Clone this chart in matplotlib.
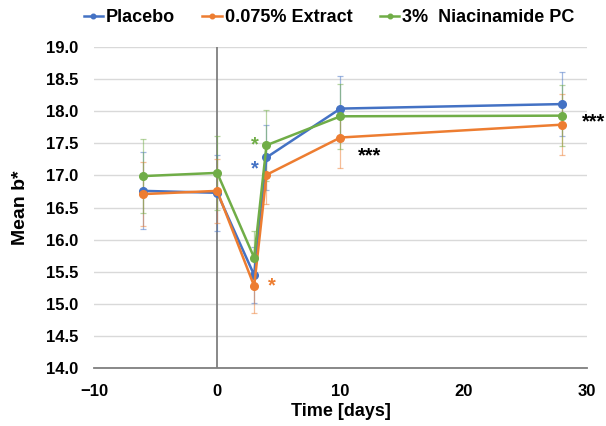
import matplotlib.pyplot as plt

plt.rcParams['font.family'] = ['Liberation Sans', 'DejaVu Sans']
plt.rcParams['font.weight'] = 'bold'

days = [-6, 0, 3, 4, 10, 28]
placebo = [16.76, 16.73, 15.45, 17.28, 18.04, 18.11]
placebo_err = [0.60, 0.59, 0.43, 0.50, 0.51, 0.50]
extract = [16.71, 16.76, 15.28, 17.01, 17.59, 17.79]
extract_err = [0.50, 0.50, 0.42, 0.46, 0.48, 0.47]
niacin = [16.99, 17.04, 15.72, 17.47, 17.92, 17.93]
niacin_err = [0.58, 0.57, 0.42, 0.55, 0.51, 0.47]

labels = ['Placebo', '0.075% Extract', '3%  Niacinamide PC']
colors = ['#4472C4', '#ED7D31', '#70AD47']

fig = plt.figure(figsize=(6.06, 4.26), dpi=100)
ax = fig.add_axes([0.155, 0.1354, 0.8136, 0.7546])

handles = []
for y, err, lab, c in zip([placebo, extract, niacin],
                          [placebo_err, extract_err, niacin_err], labels, colors):
    ax.errorbar(days, y, yerr=err, fmt='none', ecolor=c, elinewidth=0.9,
                capsize=2.5, capthick=0.9, alpha=0.5, zorder=3)
    h, = ax.plot(days, y, color=c, lw=1.8, marker='o', markersize=5.5, label=lab, zorder=4)
    handles.append(h)

# significance markers
star_kw = dict(fontsize=14.5, ha='center', va='center')
ax.text(3.06, 17.47, '*', color=colors[2], **star_kw)
ax.text(3.06, 17.10, '*', color=colors[0], **star_kw)
ax.text(4.42, 15.28, '*', color=colors[1], **star_kw)
ax.text(12.4, 17.30, '***', color='black', **star_kw)
ax.text(29.6, 17.84, '***', color='black', fontsize=14.5, ha='left', va='center', clip_on=False)

ax.axvline(0, color='#7F7F7F', lw=1.3, zorder=2)

ax.set_xlim(-10, 30)
ax.set_ylim(14, 19)
ax.set_xticks([-10, 0, 10, 20, 30])
ax.set_xticklabels(['\u221210', '0', '10', '20', '30'])
ax.set_yticks([14 + 0.5 * i for i in range(11)])
ax.set_yticklabels([f'{14 + 0.5 * i:.1f}' for i in range(11)])
ax.tick_params(length=0, labelsize=12)
ax.tick_params(axis='y', pad=11.5)
ax.tick_params(axis='x', pad=11)
ax.grid(axis='y', color='#D9D9D9', lw=1)
ax.set_axisbelow(True)
for s in ['top', 'right', 'left']:
    ax.spines[s].set_visible(False)
ax.spines['bottom'].set_color('#7F7F7F')
ax.spines['bottom'].set_linewidth(1.3)

ax.set_xlabel('Time [days]', fontsize=13, fontweight='bold', labelpad=3)
ax.set_ylabel('Mean b*', fontsize=14, fontweight='bold', labelpad=12)

fig.legend(handles=handles, loc='center', bbox_to_anchor=(0.543, 0.958), ncol=3,
           frameon=False, fontsize=13, handlelength=1.1, handletextpad=0.15,
           columnspacing=1.5, markerscale=0.6)

fig.savefig('out.png', dpi=100)
